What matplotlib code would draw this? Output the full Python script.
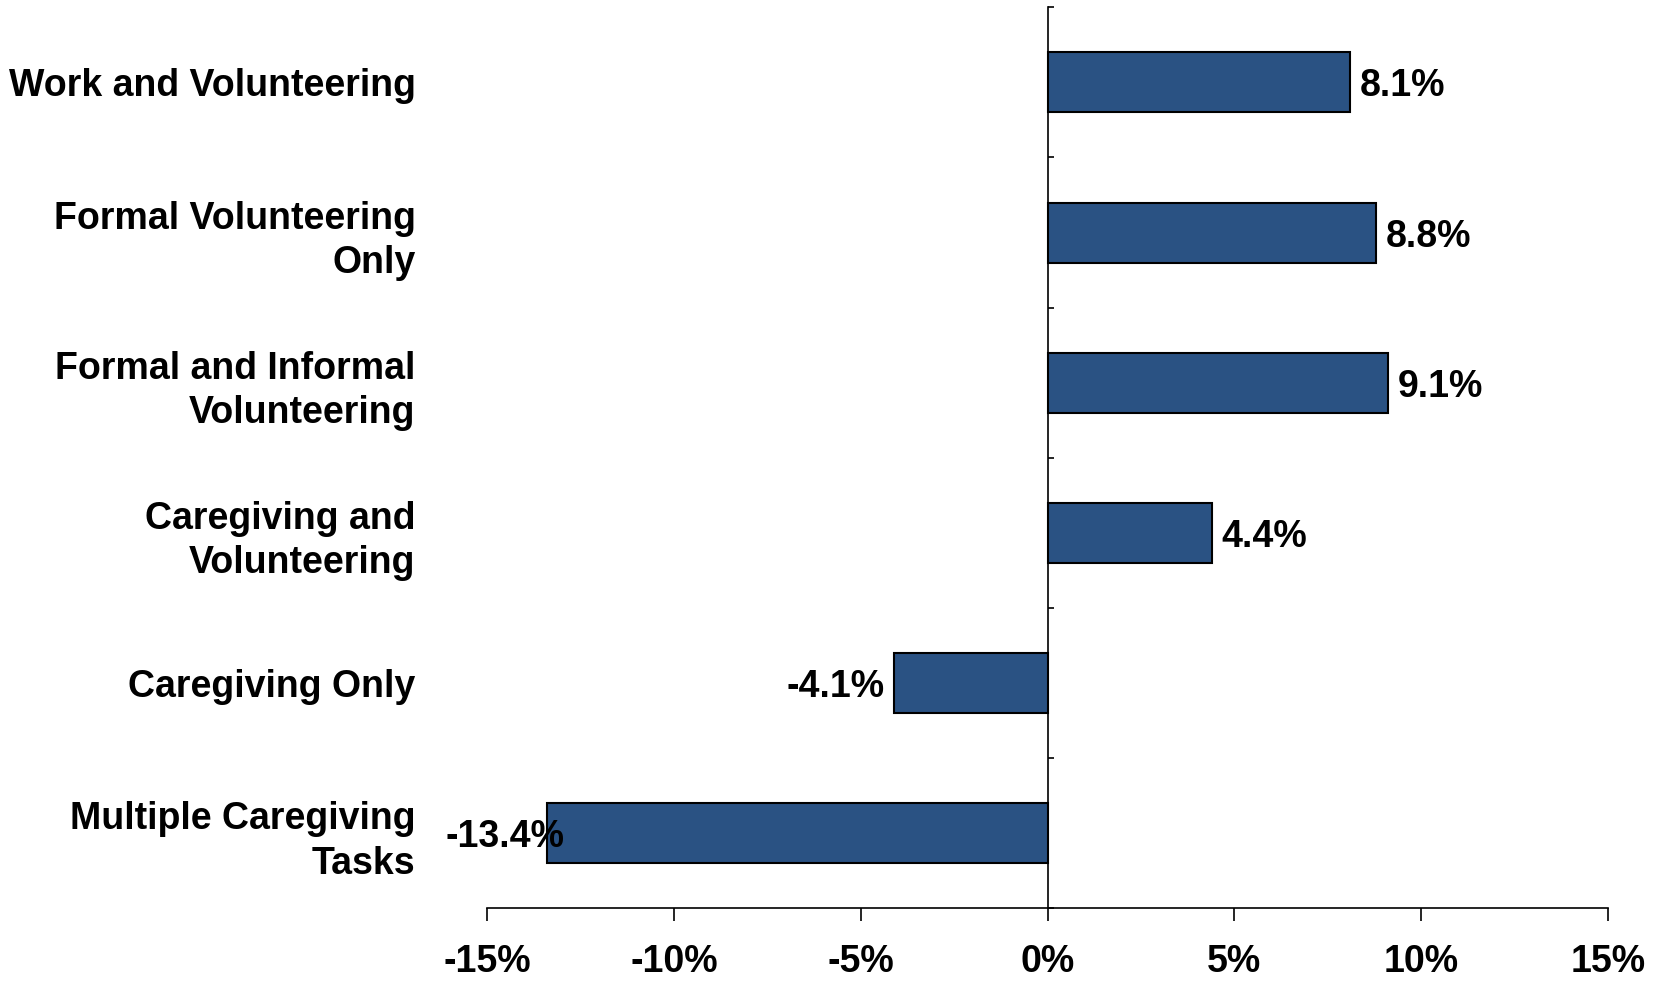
import numpy as np
import matplotlib.pyplot as plt
from matplotlib.ticker import FuncFormatter

plt.rcParams['font.family'] = ['Liberation Sans', 'DejaVu Sans']
plt.rcParams['font.weight'] = 'bold'

categories = [
    "Work and Volunteering",
    "Formal Volunteering\nOnly",
    "Formal and Informal\nVolunteering",
    "Caregiving and\nVolunteering",
    "Caregiving Only",
    "Multiple Caregiving\nTasks",
]
values = [8.1, 8.8, 9.1, 4.4, -4.1, -13.4]
x_ticks = [-15, -10, -5, 0, 5, 10, 15]

bar_color = '#2A5283'
fs = 27

fig = plt.figure(figsize=(16.6, 9.81), dpi=100)
ax = fig.add_axes([0.2934, 0.0742, 0.6753, 0.9183])

pos = np.arange(len(categories))
ax.barh(pos, values, height=0.4, color=bar_color, edgecolor='black', linewidth=1.5, zorder=2)

ax.set_xlim(-15, 15)
ax.set_ylim(len(categories) - 0.5, -0.5)

# spines: left spine sits on zero
for s in ['top', 'right']:
    ax.spines[s].set_visible(False)
ax.spines['left'].set_position(('data', 0))
ax.spines['left'].set_linewidth(1.2)
ax.spines['bottom'].set_linewidth(1.2)

ax.set_xticks(x_ticks)
ax.xaxis.set_major_formatter(FuncFormatter(lambda v, p: f"{v:.0f}%"))
ax.tick_params(axis='x', direction='out', length=9, width=1.2, pad=17, labelsize=fs)

# major y ticks at category boundaries, labels on minor ticks at centers
ax.set_yticks(np.arange(-0.5, len(categories), 1.0))
ax.set_yticklabels([])
ax.tick_params(axis='y', which='major', direction='in', length=4, width=1.2)
ax.set_yticks(pos, minor=True)
ax.set_yticklabels(categories, minor=True, fontsize=fs, fontweight='bold', ha='right',
                   multialignment='right', linespacing=1.3)
ax.tick_params(axis='y', which='minor', length=0, pad=455)

for p, v in zip(pos, values):
    label = f"{v:.1f}%"
    if v >= 0:
        ax.annotate(label, (v, p), xytext=(7, 0), textcoords='offset points',
                    ha='left', va='center_baseline', fontsize=fs, fontweight='bold')
    elif v > -12:
        ax.annotate(label, (v, p), xytext=(-7, 0), textcoords='offset points',
                    ha='right', va='center_baseline', fontsize=fs, fontweight='bold')
    else:
        # label does not fit left of the bar, so it is pushed to the plot edge
        ax.annotate(label, (-15, p), xytext=(-30, 0), textcoords='offset points',
                    ha='left', va='center_baseline', fontsize=fs, fontweight='bold')

fig.savefig('out.png', dpi=100)
